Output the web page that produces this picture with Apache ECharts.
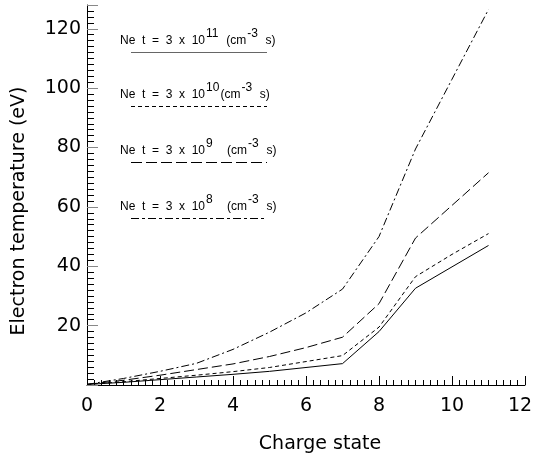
<!DOCTYPE html>
<html><head><meta charset="utf-8">
<script src="https://cdn.jsdelivr.net/npm/echarts@6/dist/echarts.min.js"></script>
<style>html,body{margin:0;padding:0;background:#fff}#c{width:533px;height:459px}</style>
</head><body><div id="c"></div>
<script>
const chargeState = [0, 1, 2, 3, 4, 5, 6, 7, 8, 9, 10, 11];
const te_3e11 = [0.2, 0.9, 1.8, 2.7, 3.6, 4.6, 5.9, 7.2, 18.0, 32.6, 39.8, 47.0];
const te_3e10 = [0.2, 1.1, 2.2, 3.3, 4.5, 5.9, 7.9, 9.9, 19.5, 36.5, 44.0, 51.0];
const te_3e9  = [0.2, 1.6, 3.3, 5.2, 7.1, 9.6, 12.6, 16.1, 27.4, 49.5, 60.5, 71.5];
const te_3e8  = [0.2, 2.2, 4.6, 7.3, 12.0, 17.8, 24.3, 32.3, 50.0, 79.5, 103.0, 126.5];
const legendExponents = ['11', '10', '9', '8'];
const xTicks = [0, 2, 4, 6, 8, 10, 12];
const yTicks = [20, 40, 60, 80, 100, 120];

const FONT = 'DejaVu Sans';
const dashes = ['solid', [4, 3], [10, 4], [8, 3, 2, 3]];
const legendDashes = ['solid', [4, 3], [11, 4], [8, 3, 3, 3]];
const seriesData = [te_3e11, te_3e10, te_3e9, te_3e8];

const chart = echarts.init(document.getElementById('c'), null, {renderer: 'canvas'});

const series = seriesData.map((arr, i) => ({
  type: 'line',
  name: 'Ne t = 3 x 10^' + legendExponents[i],
  data: chargeState.map((x, j) => [x, arr[j]]),
  showSymbol: false,
  symbol: 'none',
  lineStyle: {color: '#000', width: 1, type: dashes[i]},
  animation: false
}));

const graphics = [];
const legendTop = [40, 94, 150, 206];
const lineY = [52, 106, 162, 218];
legendExponents.forEach((e, i) => {
  graphics.push({
    type: 'text', left: 120, top: legendTop[i] - 12,
    style: {
      text: '{n|Ne  t  =  3  x  10}{s|' + e + '}{n|' + (e === '10' ? '' : (e.length === 1 ? '    ' : '  ')) + '(cm}{s|-3}{n|  s)}',
      rich: {
        n: {fontFamily: 'Liberation Sans', fontSize: 12, fill: '#000', padding: [7, 0, 0, 0]},
        s: {fontFamily: 'Liberation Sans', fontSize: 12, fill: '#000', padding: [0, 1, 6, 1]}
      }
    }
  });
  graphics.push({
    type: 'line',
    shape: {x1: 131, y1: lineY[i] + 0.5, x2: 267, y2: lineY[i] + 0.5},
    style: {stroke: i === 0 ? '#666' : '#000', lineWidth: 1, lineDash: i === 0 ? null : legendDashes[i]}
  });
});

chart.setOption({
  animation: false,
  backgroundColor: '#fff',
  grid: {left: 87, right: 8, top: 5, bottom: 74, outerBoundsMode: 'none', containLabel: false},
  xAxis: {
    type: 'value', min: 0, max: 12, interval: 2,
    name: 'Charge state', nameLocation: 'middle', nameGap: 50,
    nameTextStyle: {fontFamily: FONT, fontSize: 19, color: '#000', padding: [0, 0, 0, 28]},
    axisLine: {show: true, lineStyle: {color: '#000', width: 1}},
    axisTick: {show: true, inside: true, length: 9, lineStyle: {color: '#000'}},
    minorTick: {show: true, splitNumber: 10, length: 5, lineStyle: {color: '#000'}},
    axisLabel: {fontFamily: FONT, fontSize: 19, color: '#000', margin: 12,
      formatter: v => !xTicks.includes(v) ? '' : (v === 12 ? '{r|12}' : String(v)),
      rich: {r: {fontFamily: FONT, fontSize: 19, color: '#000', padding: [0, 10, 0, 0]}}},
    splitLine: {show: false}, minorSplitLine: {show: false}
  },
  yAxis: {
    type: 'value', min: 0, max: 128, interval: 20,
    name: 'Electron temperature (eV)', nameLocation: 'middle', nameGap: 58,
    nameTextStyle: {fontFamily: FONT, fontSize: 19, color: '#000', padding: [0, 32, 0, 0]},
    axisLine: {show: true, lineStyle: {color: '#000', width: 1}},
    axisTick: {show: true, inside: true, length: 11, lineStyle: {color: '#888'}},
    minorTick: {show: true, splitNumber: 10, length: 7, lineStyle: {color: '#000'}},
    axisLabel: {fontFamily: FONT, fontSize: 19, color: '#000', margin: 6,
      formatter: v => yTicks.includes(v) ? String(v) : ''},
    splitLine: {show: false}, minorSplitLine: {show: false}
  },
  series: series,
  graphic: graphics
});
</script></body></html>
